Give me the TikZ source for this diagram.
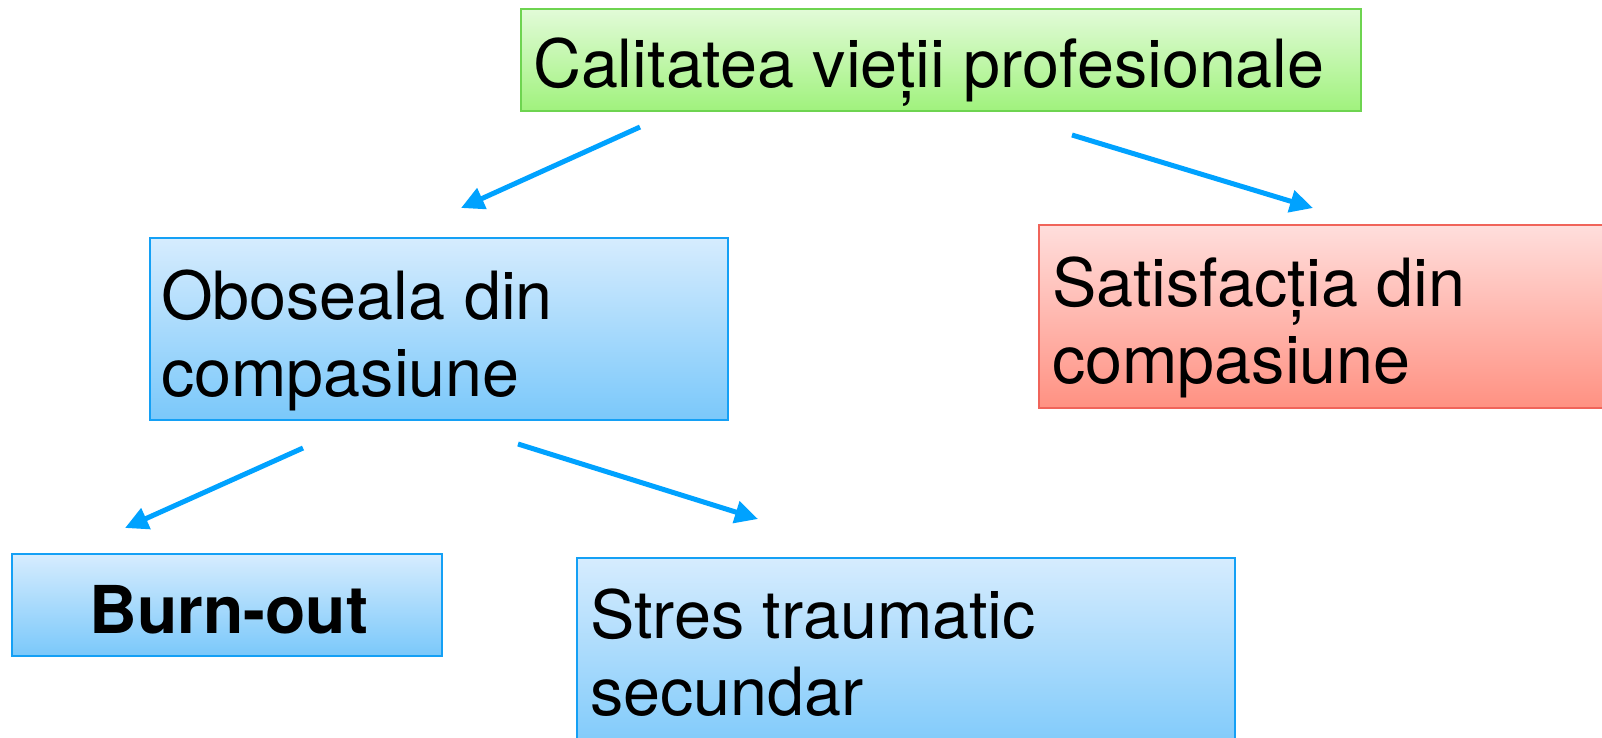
\documentclass[tikz,border=0pt]{standalone}
\usepackage{fontspec}
\setmainfont{TeX Gyre Heros}
\usetikzlibrary{arrows.meta}
\definecolor{arrowblue}{RGB}{0,162,255}
\definecolor{blueborder}{RGB}{20,160,245}
\definecolor{bluetop}{RGB}{214,236,254}
\definecolor{bluebot}{RGB}{122,200,250}
\definecolor{greenborder}{RGB}{110,212,80}
\definecolor{greentop}{RGB}{226,251,216}
\definecolor{greenbot}{RGB}{160,242,125}
\definecolor{redborder}{RGB}{240,100,90}
\definecolor{redtop}{RGB}{255,222,220}
\definecolor{redbot}{RGB}{255,145,130}
\tikzset{
  boxbase/.style={rectangle, inner sep=0pt, outer sep=0pt, line width=2pt, anchor=north west},
  bluebox/.style={boxbase, draw=blueborder, top color=bluetop, bottom color=bluebot},
  greenbox/.style={boxbase, draw=greenborder, top color=greentop, bottom color=greenbot},
  redbox/.style={boxbase, draw=redborder, top color=redtop, bottom color=redbot},
  txt/.style={inner sep=0pt, outer sep=0pt, anchor=base west, align=left, text=black,
    font=\fontsize{66.5}{76.5}\selectfont},
  arr/.style={line width=5pt, arrowblue, -{Triangle[length=23pt,width=22pt]}},
}
\begin{document}
\begin{tikzpicture}[x=1pt,y=-1pt]
\clip (0,0) rectangle (1602,737);
\fill[white] (0,0) rectangle (1602,737);
% boxes
\node[greenbox, minimum width=840pt, minimum height=102pt] (top) at (521,9) {};
\node[bluebox, minimum width=578pt, minimum height=182pt] (obo) at (150,238) {};
\node[redbox, minimum width=580pt, minimum height=183pt] (sat) at (1039,225) {};
\node[bluebox, minimum width=430pt, minimum height=102pt] (burn) at (12,554) {};
\node[bluebox, minimum width=658pt, minimum height=200pt] (stres) at (577,558) {};
% texts (base anchor = baseline of the last line)
\node[txt] (topT) at (533,87) {Calitatea vieții profesionale};
\node[txt] (oboT) at (161,396) {Oboseala din\\compasiune};
\node[txt] (satT) at (1052,383) {Satisfacția din\\compasiune};
\node[txt, anchor=base, font=\fontsize{66}{76}\selectfont\bfseries] (burnT) at (229,633) {Burn-out};
\node[txt] (stresT) at (590,715) {Stres traumatic\\secundar};
% arrow end points
\coordinate (a1s) at (640,127);
\coordinate (a1e) at (461,208);
\coordinate (a2s) at (1072,135);
\coordinate (a2e) at (1313,208);
\coordinate (a3s) at (303,448);
\coordinate (a3e) at (125,528);
\coordinate (a4s) at (518,444);
\coordinate (a4e) at (758,519);
\draw[arr] (a1s) -- (a1e);
\draw[arr] (a2s) -- (a2e);
\draw[arr] (a3s) -- (a3e);
\draw[arr] (a4s) -- (a4e);
\end{tikzpicture}
\end{document}
